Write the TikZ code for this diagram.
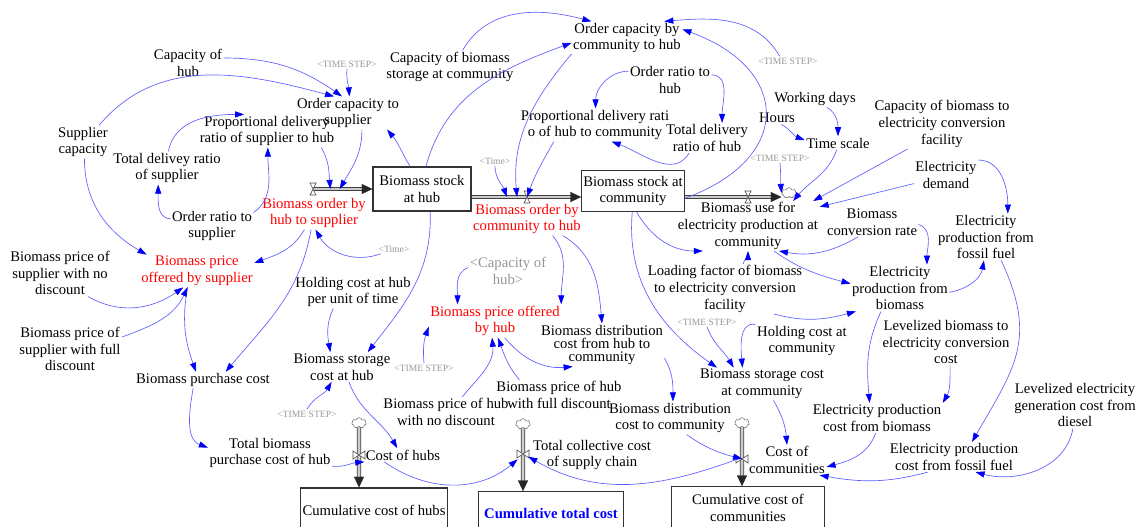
\documentclass[tikz,border=0pt]{standalone}
\usepackage{fontspec}
\setmainfont{Liberation Serif}
\usetikzlibrary{arrows.meta,shapes.symbols}

\definecolor{linkblue}{RGB}{95,95,255}
\definecolor{tipblue}{RGB}{0,0,245}
\definecolor{ghostgray}{RGB}{150,150,150}

\tikzset{
  var/.style={align=center, inner sep=1pt, font=\fontsize{11}{12.5}\selectfont},
  rate/.style={var, text=red},
  ghost/.style={inner sep=1pt, text=ghostgray, font=\fontsize{7.2}{8}\selectfont},
  stock/.style={var, draw=black!80, line width=0.85pt},
  link/.style={draw=linkblue, line width=0.5pt, -{Triangle[length=6.8pt,width=4.6pt,color=tipblue]}},
  pipe/.style={draw=black!75, line width=0.6pt, double=gray!40, double distance=2pt, shorten >=6pt},
  pipetip/.style={draw=gray!40, line width=0.2pt, -{Triangle[length=8pt,width=7.5pt,color=black!85]}},
  valve/.style={draw=black!70, line width=0.5pt, fill=white},
  sink/.style={cloud, cloud puffs=7, aspect=1.4, draw=black!60, line width=0.4pt, fill=white,
    minimum width=11pt, minimum height=8pt, inner sep=0pt}
}
\newcommand{\flowpipe}[2]{\draw[pipe] #1 -- #2; \draw[pipetip] #1 -- #2;}

\begin{document}
\begin{tikzpicture}[x=0.75pt,y=-0.75pt]
\useasboundingbox (0,0) rectangle (1140,526);

\node[var] (capHub) at (188,63) {Capacity of\\hub};
\node[ghost] (tsA) at (347,64) {<TIME STEP>};
\node[var] (ocSup) at (348,113) {Order capacity to\\supplier};
\node[var] (supCap) at (83,142) {Supplier\\capacity};
\node[var] (pdrSup) at (267,131) {Proportional delivery\\ratio of supplier to hub};
\node[var] (tdrSup) at (167,168) {Total delivey ratio\\of supplier};
\node[var] (orSup) at (212,226) {Order ratio to\\supplier};
\node[rate] (orderHub) at (314,213) {Biomass order by\\hub to supplier};
\node[var] (capStor) at (450,67) {Capacity of biomass\\storage at community};
\node[var] (ocComm) at (627,38) {Order capacity by\\community to hub};
\node[var] (orHub) at (670,80) {Order ratio to\\hub};
\node[var] (pdrHub) at (595,125) {Proportional delivery rati\\o of hub to community};
\node[var] (tdrHub) at (707,138) {Total delivery\\ratio of hub};
\node[ghost] (timeA) at (495,161) {<Time>};
\node[rate] (orderComm) at (527,219) {Biomass order by\\community to hub};
\node[ghost] (tsB) at (788,61) {<TIME STEP>};
\node[var] (workDays) at (815,99) {Working days};
\node[var] (hours) at (777,118) {Hours};
\node[var] (timeScale) at (838,143) {Time scale};
\node[ghost] (tsC) at (780,158) {<TIME STEP>};
\node[var] (capConv) at (942,124) {Capacity of biomass to\\electricity conversion\\facility};
\node[var] (elecDem) at (946,175) {Electricity\\demand};
\node[var] (useComm) at (748,226) {Biomass use for\\electricity production at\\community};
\node[var] (convRate) at (872,222) {Biomass\\conversion rate};
\node[var] (elecFossil) at (986,237) {Electricity\\production from\\fossil fuel};
\node[var] (priceNo) at (60,273) {Biomass price of\\supplier with no\\discount};
\node[rate] (priceSup) at (197,271) {Biomass price\\offered by supplier};
\node[ghost] (timeB) at (394,249) {<Time>};
\node[var, text=ghostgray] (capHubRef) at (508,271) {<Capacity of\\hub>};
\node[var] (holdHub) at (353,292) {Holding cost at hub\\per unit of time};
\node[var] (priceFull) at (70,349) {Biomass price of\\supplier with full\\discount};
\node[var] (purchCost) at (203,380) {Biomass purchase cost};
\node[rate] (priceHub) at (495,321) {Biomass price offered\\by hub};
\node[var] (loadFac) at (725,289) {Loading factor of biomass\\to electricity conversion\\facility};
\node[var] (elecBio) at (900,288) {Electricity\\production from\\biomass};
\node[var, font=\fontsize{11}{10}\selectfont] (distHub) at (602,345) {Biomass distribution\\cost from hub to\\community};
\node[var] (holdComm) at (802,341) {Holding cost at\\community};
\node[ghost] (tsD) at (707,322) {<TIME STEP>};
\node[var] (levBio) at (946,342) {Levelized biomass to\\electricity conversion\\cost};
\node[var] (storHub) at (342,367) {Biomass storage\\cost at hub};
\node[ghost] (tsE) at (424,368) {<TIME STEP>};
\node[var] (storComm) at (762,384) {Biomass storage cost\\at community};
\node[var] (hubFull) at (559,395) {Biomass price of hub\\with full discount};
\node[var] (hubNo) at (446,412) {Biomass price of hub\\with no discount};
\node[ghost] (tsF) at (307,414) {<TIME STEP>};
\node[var] (distComm) at (670,418) {Biomass distribution\\cost to community};
\node[var] (levDiesel) at (1075,405) {Levelized electricity\\generation cost from\\diesel};
\node[var] (costBio) at (877,418) {Electricity production\\cost from biomass};
\node[var] (totPurch) at (270,453) {Total biomass\\purchase cost of hub};
\node[var] (costHubs) at (403,455) {Cost of hubs};
\node[var] (totCost) at (592,455) {Total collective cost\\of supply chain};
\node[var] (costComm) at (787,460) {Cost of\\communities};
\node[var] (costFossil) at (954,457) {Electricity production\\cost from fossil fuel};

\node[stock, minimum width=73.5pt, minimum height=33pt] (stockHub) at (422,189) {Biomass stock\\at hub};
\node[stock, minimum width=77pt, minimum height=31pt] (stockComm) at (633,191) {Biomass stock at\\community};
\node[stock, minimum width=110pt, minimum height=33pt] (cumHubs) at (374,510) {Cumulative cost of hubs};
\node[stock, minimum width=109pt, minimum height=32pt, text=blue,
  font=\fontsize{11}{12.5}\selectfont\bfseries] (cumTotal) at (551,513) {Cumulative total cost};
\node[stock, minimum width=115pt, minimum height=32pt] (cumComm) at (748,508) {Cumulative cost of\\communities};

\node[sink] (cUse) at (789,193) {};
\node[sink] (cHubs) at (359,423) {};
\node[sink] (cTot) at (523,424) {};
\node[sink] (cComm) at (742,423) {};

\coordinate (vSup) at (313,189);
\coordinate (vHC) at (527,197);
\coordinate (vUse) at (748,197);
\coordinate (vHubs) at (359,455);
\coordinate (vTot) at (523,454);
\coordinate (vComm) at (742,459);

\flowpipe{(vSup)}{(stockHub.west)}
\flowpipe{(stockHub.east |- vHC)}{(stockComm.west |- vHC)}
\flowpipe{(stockComm.east |- vUse)}{(cUse.west |- vUse)}
\flowpipe{(cHubs.south)}{(cumHubs.north -| cHubs)}
\flowpipe{(cTot.south)}{(cumTotal.north -| cTot)}
\flowpipe{(cComm.south)}{(cumComm.north -| cComm)}

\draw[valve] (vSup) +(-3,-6) -- +(3,-6) -- +(-3,6) -- +(3,6) -- cycle;
\draw[valve] (vHC) +(-3,-6) -- +(3,-6) -- +(-3,6) -- +(3,6) -- cycle;
\draw[valve] (vUse) +(-3,-6) -- +(3,-6) -- +(-3,6) -- +(3,6) -- cycle;
\draw[valve] (vHubs) +(-6,-4) -- +(-6,4) -- +(6,-4) -- +(6,4) -- cycle;
\draw[valve] (vTot) +(-6,-4) -- +(-6,4) -- +(6,-4) -- +(6,4) -- cycle;
\draw[valve] (vComm) +(-6,-4) -- +(-6,4) -- +(6,-4) -- +(6,4) -- cycle;

\draw[link] (capHub.8) to[out=0,in=145] (ocSup.110);
\draw[link] (tsA.south) to[out=-95,in=95] (ocSup.85);
\draw[link] (supCap.46) to[out=50,in=165] (ocSup.130);
\draw[link] (supCap.-85) to[out=-90,in=150] (priceSup.162);
\draw[link] (tdrSup.85) to[out=80,in=180] (pdrSup.144);
\draw[link] (orSup.170) to[out=180,in=-90] (tdrSup.-118);
\draw[link] (orSup.18) to[out=35,in=-90] (pdrSup.-87);
\draw[link] (pdrSup.-17) to[out=-60,in=95] ([xshift=13pt]vSup);
\draw[link] (ocSup.-50) to[out=-90,in=60] ([xshift=20pt]vSup);
\draw[link] (orderHub.-120) to[out=-120,in=20] (priceSup.8);
\draw[link] (orderHub.-100) to[out=-100,in=50] (purchCost.20);
\draw[link] (timeB.-160) to[out=200,in=-60] (orderHub.-85);
\draw[link] (stockHub.118) to[out=120,in=-50] (ocSup.-23);
\draw[link] (stockHub.80) to[out=75,in=200] (ocComm.185);
\draw[link] (capStor.53) to[out=60,in=165] (ocComm.155);
\draw[link] (ocComm.-164) to[out=-130,in=95] ([xshift=-7.5pt]vHC);
\draw[link] (timeA.south) to[out=-90,in=110] ([xshift=-15pt]vHC);
\draw[link] (pdrHub.-158) to[out=-120,in=70] (vHC);
\draw[link] (orHub.168) to[out=180,in=90] (pdrHub.88);
\draw[link] (orHub.7) to[out=0,in=90] (tdrHub.45);
\draw[link] (tdrHub.-140) to[out=-120,in=-20] (pdrHub.-45);
\draw[link] (stockComm.-8) to[out=20,in=-20,looseness=1.75] (ocComm.9);
\draw[link] (tsB.150) to[out=120,in=5] (ocComm.24);
\draw[link] (stockComm.-80) to[out=-60,in=180] (useComm.-151);
\draw[link] (stockComm.-92) to[out=-95,in=145] (storComm.160);
\draw[link] (orderComm.-33) to[out=-50,in=90] (priceHub.north east);
\draw[link] (orderComm.-25) to[out=-30,in=95] (distHub.north);
\draw[link] (capHubRef.175) to[out=200,in=90] (priceHub.156);
\draw[link] (tsE.north) to[out=95,in=-110] (priceHub.185);
\draw[link] (hubNo.43) to[out=50,in=-85] (priceHub.-100);
\draw[link] (hubFull.159) to[out=130,in=-70] (priceHub.-80);
\draw[link] (priceHub.-60) to[out=-50,in=185] ([xshift=-22pt]distHub.south);
\draw[link] (distHub.-12) to[out=-60,in=90] (distComm.80);
\draw[link] (stockHub.-70) to[out=-88,in=52] (storHub.30);
\draw[link] (holdHub.-140) to[out=-115,in=100] (storHub.128);
\draw[link] (tsF.north) to[out=60,in=-120] (storHub.-125);
\draw[link] (storHub.-65) to[out=-70,in=120] (costHubs.130);
\draw[link] (purchCost.-140) to[out=-100,in=160] (totPurch.175);
\draw[link] (priceSup.-120) to[out=-100,in=110] (purchCost.130);
\draw[link] (priceNo.-40) to[out=-30,in=-145] (priceSup.-130);
\draw[link] (priceFull.13) to[out=20,in=-115] (priceSup.-120);
\draw[link] (totPurch.-12) to[out=-5,in=185] (costHubs.-170);
\draw[link] (costHubs.-160) to[out=-35,in=-140] ([xshift=-4pt,yshift=-4pt]vTot);
\draw[link] ([xshift=-3pt]vComm) to[out=-160,in=-30] ([xshift=4pt,yshift=-2pt]vTot);
\draw[link] (distComm.-45) to[out=-35,in=165] (vComm);
\draw[link] (storComm.-55) to[out=-60,in=95] (costComm.north);
\draw[link] (costBio.-95) to[out=-110,in=15] (costComm.-10);
\draw[link] (costFossil.-150) to[out=-165,in=-10] (costComm.-25);
\draw[link] (levDiesel.-95) to[out=-100,in=-15] (costFossil.-35);
\draw[link] (levBio.-80) to[out=-90,in=60] (costBio.north east);
\draw[link] (elecBio.-129) to[out=-115,in=95] (costBio.116);
\draw[link] (elecFossil.-57) to[out=-65,in=60,looseness=1.2] (costFossil.40);
\draw[link] (elecBio.-5) to[out=10,in=-100] (elecFossil.-95);
\draw[link] (useComm.-44) to[out=-35,in=165] (elecBio.175);
\draw[link] (loadFac.-27.5) to[out=-15,in=195] (elecBio.-152);
\draw[link] (holdComm.north west) to[out=170,in=95] (storComm.140);
\draw[link] (tsD.south) to[out=-70,in=120] (storComm.150);
\draw[link] (loadFac.54) to[out=80,in=-90] (useComm.south);
\draw[link] (convRate.-133) to[out=-150,in=-10] (useComm.-39);
\draw[link] (convRate.-3) to[out=-20,in=90] (elecBio.41);
\draw[link] (elecDem.-165) -- (useComm.15);
\draw[link] (elecDem.25) to[out=0,in=90] (elecFossil.47);
\draw[link] (capConv.-144) -- (useComm.21);
\draw[link] (timeScale.-100) to[out=-110,in=50] (useComm.29);
\draw[link] (tsC.south) to[out=-85,in=95] (cUse.west);
\draw[link] (workDays.-35) to[out=-30,in=90] (timeScale.north);
\draw[link] (hours.-55) to[out=-30,in=160] (timeScale.175);
\end{tikzpicture}
\end{document}
